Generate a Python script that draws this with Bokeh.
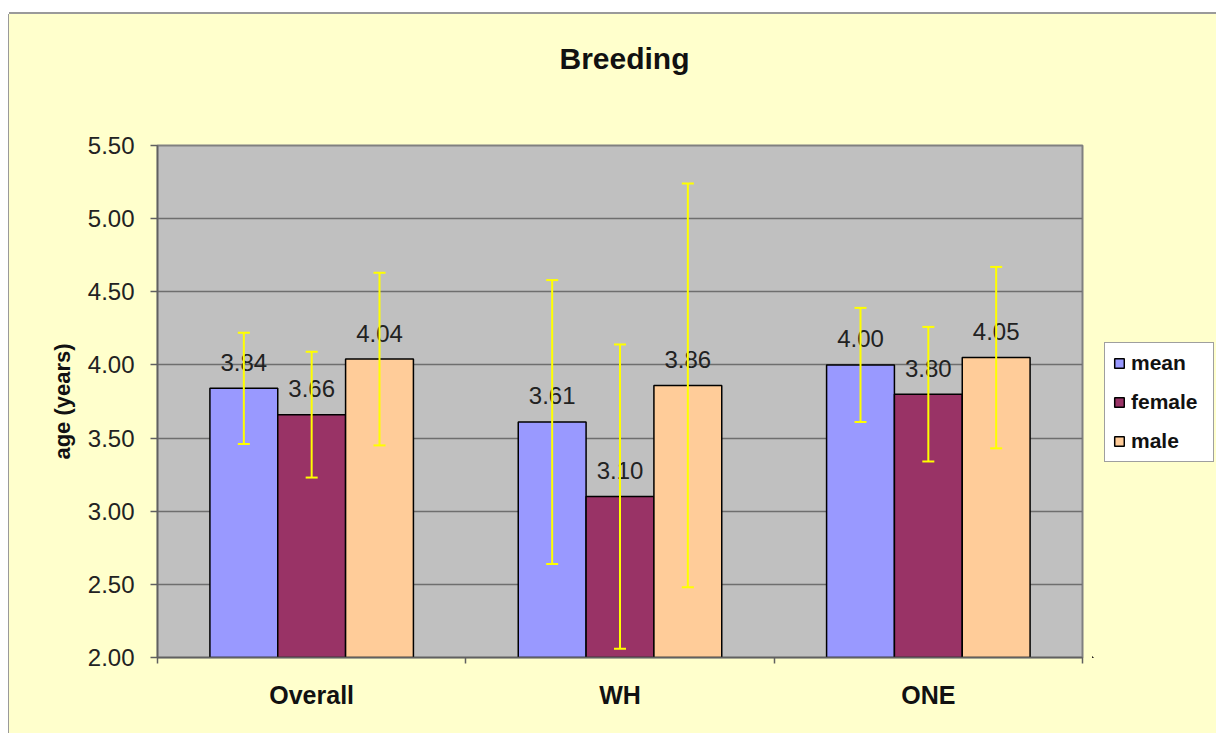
import numpy as np
from bokeh.plotting import figure
from bokeh.models import (ColumnDataSource, Whisker, TeeHead, FixedTicker,
                          NumeralTickFormatter, Legend, LegendItem, Range1d, Spacer, Label)
from bokeh.layouts import column, row
from bokeh.core.properties import value
from bokeh.embed import file_html
from bokeh.resources import INLINE

# ---- data ----
title_text = "Breeding"
groups = ["Overall", "WH", "ONE"]
series = ["mean", "female", "male"]
mean_vals = [3.84, 3.61, 4.00]
female_vals = [3.66, 3.10, 3.80]
male_vals = [4.04, 3.86, 4.05]
mean_err = [0.38, 0.97, 0.39]
female_err = [0.43, 1.04, 0.46]
male_err = [0.59, 1.38, 0.62]
y_ticks = [2.00, 2.50, 3.00, 3.50, 4.00, 4.50, 5.00, 5.50]

# ---- style ----
colors = ["#9999FF", "#993366", "#FFCC99"]
FONT = "Liberation Sans"
BG = "#FFFFCC"
EDGE = "#9A9A9A"
bar_w = 0.22

# title strip
pt = figure(width=1207, height=100, output_backend="svg", toolbar_location=None,
            x_range=Range1d(0, 1), y_range=Range1d(0, 1),
            x_axis_location=None, y_axis_location=None, min_border=0)
pt.border_fill_color = BG
pt.background_fill_color = BG
pt.outline_line_color = None
pt.grid.visible = False
pt.add_layout(Label(x=615, y=56, x_units="screen", y_units="screen", text=title_text,
                    text_align="center", text_baseline="middle", text_font=FONT,
                    text_font_size="30px", text_font_style="bold", text_color="#111111"))

p = figure(width=1083, height=619, output_backend="svg", toolbar_location=None,
           x_range=Range1d(0, 3), y_range=Range1d(2.0, 5.5),
           min_border_left=148, min_border_right=10, min_border_top=31, min_border_bottom=76)
p.border_fill_color = BG
p.background_fill_color = "#C0C0C0"
p.outline_line_color = "#808080"
p.outline_line_width = 2

# legend holder (separate small figure, same background)
p2 = figure(width=124, height=619, output_backend="svg", toolbar_location=None,
            x_range=Range1d(100, 101), y_range=Range1d(100, 101),
            x_axis_location=None, y_axis_location=None, min_border=0)
p2.border_fill_color = BG
p2.background_fill_color = BG
p2.outline_line_color = None
p2.grid.visible = False

vals = [mean_vals, female_vals, male_vals]
errs = [mean_err, female_err, male_err]
base_x = np.arange(len(groups)) + 0.5
items = []
for k, (name, v, e, c) in enumerate(zip(series, vals, errs, colors)):
    v = np.array(v)
    e = np.array(e)
    xs = base_x + (k - 1) * bar_w
    src = ColumnDataSource(dict(x=xs, top=v, upper=v + e, lower=v - e,
                                label=["%.2f" % t for t in v]))
    p.vbar(x="x", top="top", bottom=2.0, width=bar_w, source=src,
           fill_color=c, line_color="#000000", line_width=1.5)
    p.text(x="x", y="top", text="label", source=src, text_align="center",
           text_baseline="alphabetic", y_offset=-26, text_font=value(FONT),
           text_font_size="24px", text_color="#222222")
    w = Whisker(source=src, base="x", upper="upper", lower="lower",
                line_color="#FFFF00", line_width=2, level="overlay",
                upper_head=TeeHead(size=12, line_color="#FFFF00", line_width=2),
                lower_head=TeeHead(size=12, line_color="#FFFF00", line_width=2))
    p.add_layout(w)
    # same bars in the legend holder (outside its visible range), used for legend swatches
    r2 = p2.vbar(x="x", top="top", bottom=2.0, width=bar_w, source=src,
                 fill_color=c, line_color="#000000", line_width=1.5)
    items.append(LegendItem(label=name, renderers=[r2]))

# axes
p.yaxis.ticker = FixedTicker(ticks=y_ticks)
p.yaxis.formatter = NumeralTickFormatter(format="0.00")
p.yaxis.major_tick_out = 7
p.yaxis.major_tick_in = 0
p.yaxis.minor_tick_out = 0
p.yaxis.minor_tick_in = 0
p.yaxis.major_label_standoff = 16
p.yaxis.major_label_text_font = FONT
p.yaxis.major_label_text_font_size = "24px"
p.yaxis.major_label_text_color = "#222222"
p.yaxis.axis_label = "age (years)"
p.yaxis.axis_label_text_font = FONT
p.yaxis.axis_label_text_font_size = "22px"
p.yaxis.axis_label_text_font_style = "bold"
p.yaxis.axis_label_text_color = "#111111"
p.yaxis.axis_label_standoff = 10
p.yaxis.axis_line_color = "#606060"
p.yaxis.axis_line_width = 1.5
p.yaxis.major_tick_line_color = "#606060"
p.yaxis.major_tick_line_width = 1.5

p.xaxis.ticker = FixedTicker(ticks=list(base_x), minor_ticks=list(range(len(groups) + 1)))
p.xaxis.major_label_overrides = {float(b): g for b, g in zip(base_x, groups)}
p.xaxis.major_tick_out = 0
p.xaxis.major_tick_in = 0
p.xaxis.minor_tick_out = 6
p.xaxis.minor_tick_in = 0
p.xaxis.minor_tick_line_color = "#606060"
p.xaxis.minor_tick_line_width = 1.5
p.xaxis.major_label_standoff = 17
p.xaxis.major_label_text_font = FONT
p.xaxis.major_label_text_font_size = "25px"
p.xaxis.major_label_text_font_style = "bold"
p.xaxis.major_label_text_color = "#111111"
p.xaxis.axis_line_color = "#606060"
p.xaxis.axis_line_width = 1.5

p.xgrid.visible = False
p.ygrid.grid_line_color = "#6E6E6E"
p.ygrid.grid_line_width = 1.5

legend = Legend(items=items, location=(12, 195), orientation="vertical",
                background_fill_color="#FFFFFF", background_fill_alpha=1.0,
                border_line_color="#404040", border_line_width=1,
                label_text_font=FONT, label_text_font_size="21px",
                label_text_font_style="bold", label_text_color="#111111",
                glyph_width=12, glyph_height=12, label_standoff=6,
                label_height=22, label_width=74, spacing=15, padding=8, margin=0)
p2.add_layout(legend)

charts = column(pt, row(p, p2, styles={"background-color": BG}),
                styles={"background-color": BG})
top_edge = Spacer(width=1207, height=14,
                  styles={"border-bottom": "2px solid " + EDGE, "box-sizing": "border-box"})
left_edge = Spacer(width=9, height=719,
                   styles={"border-right": "1px solid " + EDGE, "box-sizing": "border-box"})
layout = row(column(Spacer(width=9, height=14), left_edge),
             column(top_edge, charts))
open("out.html", "w").write(file_html(layout, INLINE))
